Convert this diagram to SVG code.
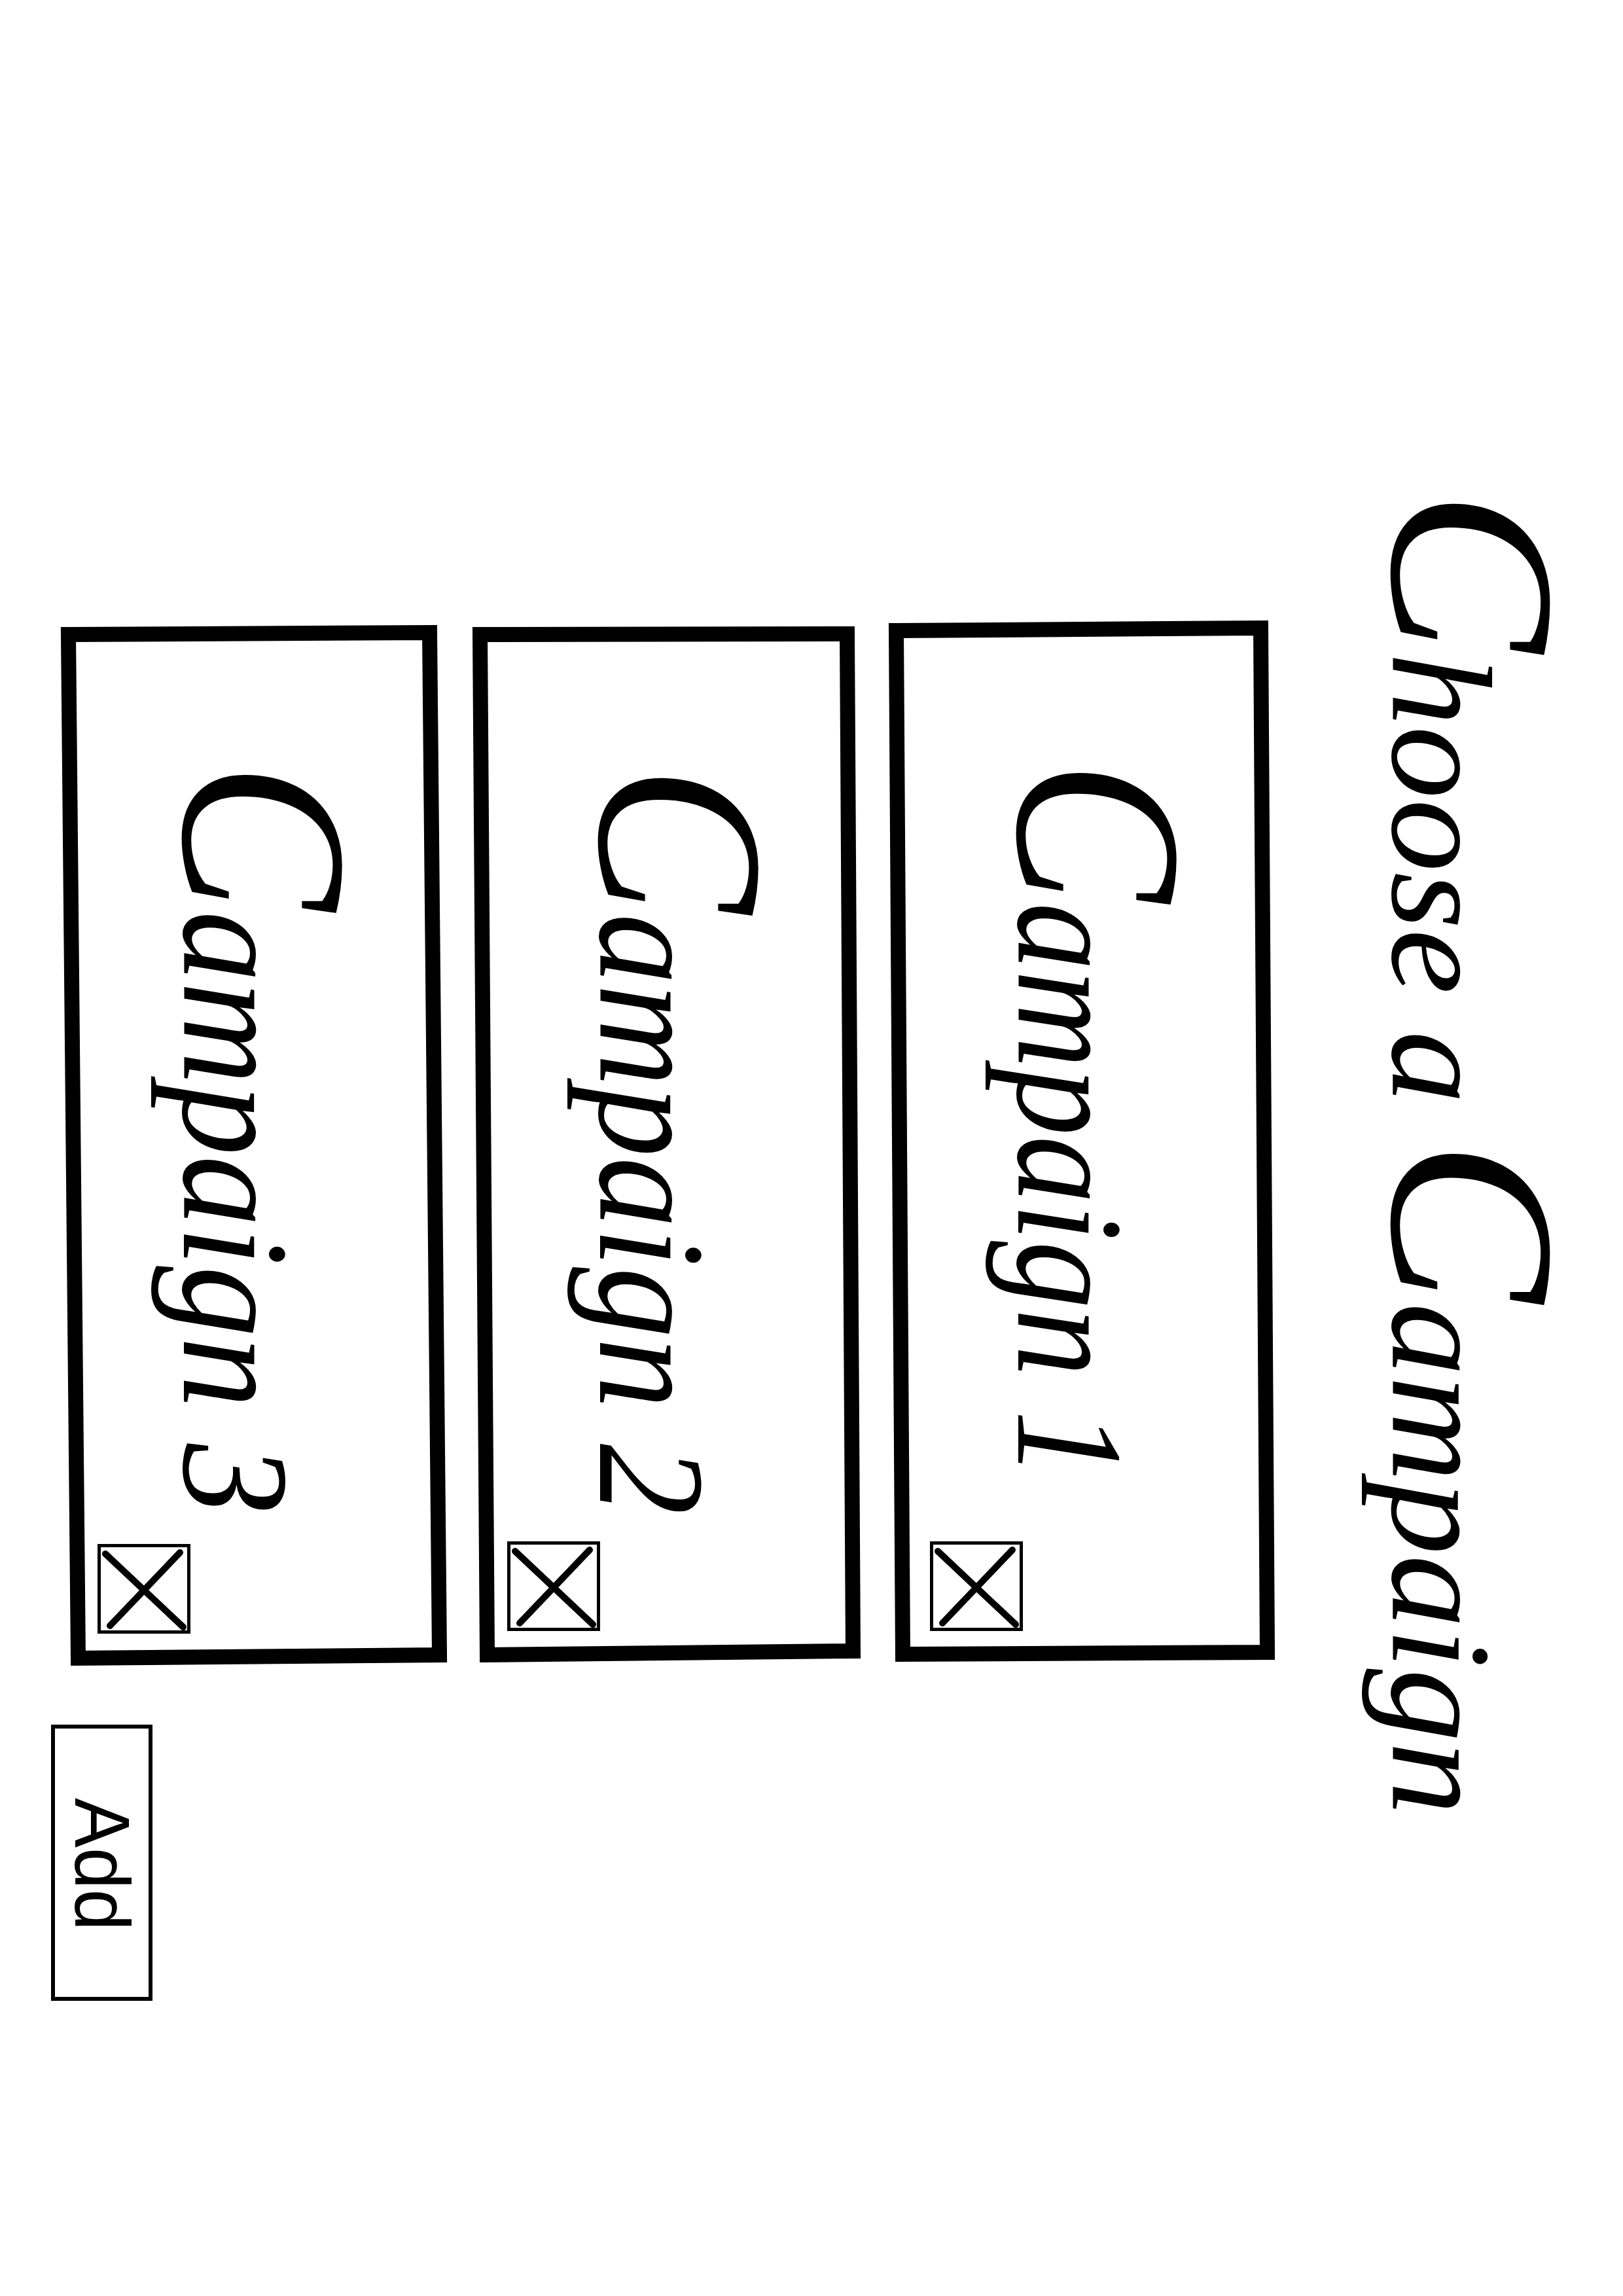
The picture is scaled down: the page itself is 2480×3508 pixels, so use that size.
<svg xmlns="http://www.w3.org/2000/svg" width="2480" height="3508" viewBox="0 0 2480 3508">
<style>
.card{fill:#fff;stroke:#000;stroke-width:23;stroke-linejoin:miter}
.chk{fill:#fff;stroke:#000;stroke-width:5}
.xl{stroke:#000;stroke-width:10;stroke-linecap:round}
.script{font-family:"Liberation Serif","Times New Roman",serif;font-style:italic;fill:#000}
.cap{font-size:365px}
.low{font-size:233px}
.btn{fill:#fff;stroke:#000;stroke-width:6}
.btxt{font-family:"Liberation Sans",Arial,sans-serif;font-size:118px;fill:#000}
</style>
<rect width="2480" height="3508" fill="#fff"/>
<g id="title">
<text class="script" transform="translate(2128,749) rotate(90)" textLength="2024" lengthAdjust="spacingAndGlyphs"><tspan style="font-size:363px">C</tspan><tspan style="font-size:218px">hoose a </tspan><tspan style="font-size:363px">C</tspan><tspan style="font-size:218px">ampaign</tspan></text>
</g>
<g id="campaign1">
<polygon class="card" points="1369.5,963.5 1926.5,959.5 1936.5,2524.5 1379.5,2527.5"/>
<text class="script" transform="translate(1556,1163) rotate(90)" textLength="1095" lengthAdjust="spacingAndGlyphs"><tspan class="cap">C</tspan><tspan class="low">ampaign 1</tspan></text>
<g id="delete1">
<rect class="chk" x="1423.5" y="2357.5" width="137" height="132"/>
<line class="xl" x1="1433" y1="2370" x2="1552" y2="2482"/>
<line class="xl" x1="1547" y1="2368" x2="1440" y2="2480"/>
</g>
</g>
<g id="campaign2">
<polygon class="card" points="733.5,969.5 1294.5,968.5 1303.5,2522.5 744.5,2528.5"/>
<text class="script" transform="translate(917,1170) rotate(90)" textLength="1144" lengthAdjust="spacingAndGlyphs"><tspan class="cap">C</tspan><tspan class="low">ampaign 2</tspan></text>
<g id="delete2">
<rect class="chk" x="777.5" y="2357.5" width="137" height="132"/>
<line class="xl" x1="787" y1="2370" x2="906" y2="2482"/>
<line class="xl" x1="901" y1="2368" x2="794" y2="2480"/>
</g>
</g>
<g id="campaign3">
<polygon class="card" points="104.5,969.5 656.5,966.5 671.5,2528.5 119.5,2533.5"/>
<text class="script" transform="translate(281,1165) rotate(90)" textLength="1149" lengthAdjust="spacingAndGlyphs"><tspan class="cap">C</tspan><tspan class="low">ampaign 3</tspan></text>
<g id="delete3">
<rect class="chk" x="151.5" y="2361.5" width="137" height="132"/>
<line class="xl" x1="161" y1="2374" x2="280" y2="2486"/>
<line class="xl" x1="275" y1="2372" x2="168" y2="2484"/>
</g>
</g>
<g id="add">
<rect class="btn" x="81" y="2638" width="149" height="416"/>
<text class="btxt" transform="translate(115,2747) rotate(90)" textLength="203" lengthAdjust="spacingAndGlyphs">Add</text>
</g>
<g id="connectors"/>
</svg>
